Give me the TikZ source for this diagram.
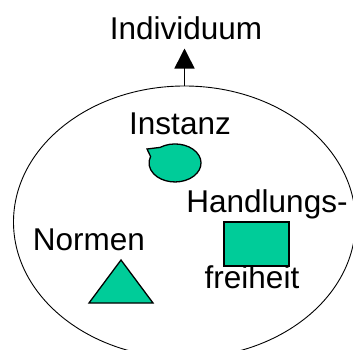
\documentclass[tikz,border=0pt]{standalone}
\usepackage{fontspec}
\setmainfont{Liberation Sans}
\usetikzlibrary{arrows.meta,shapes.geometric}
\definecolor{teal1}{RGB}{0,204,153}
\tikzset{
  lbl/.style={inner sep=0pt, anchor=base, font=\fontsize{31.5}{36}\selectfont},
  shp/.style={draw=black, fill=teal1, line width=1.3pt},
}
\begin{document}
\begin{tikzpicture}[x=1pt,y=-1pt]
\useasboundingbox (0,0) rectangle (353,350);
\node[draw, line width=0.9pt, ellipse, minimum width=342pt, minimum height=272pt, inner sep=0pt] (body) at (184.5,222) {};
\node[lbl] (ind) at (186,40) {Individuum};
\draw[line width=1.6pt, -{Triangle[width=20pt,length=20pt]}, shorten >=8pt] (body.north) -- (body.north |- ind.south);
\node[lbl] (inst) at (180,135) {Instanz};
\draw[shp] (147,149) -- (160.1,147.4) arc[start angle=235, end angle=560, x radius=26, y radius=19] -- cycle;
\node[lbl] (hand) at (267,212) {Handlungs-};
\node[shp, minimum width=65pt, minimum height=44pt, inner sep=0pt] (rect) at (256.5,244) {};
\node[lbl] (frei) at (252,288) {freiheit};
\node[lbl] (norm) at (89,250) {Normen};
\draw[shp] (121,260) -- (153,303) -- (89,303) -- cycle;
\end{tikzpicture}
\end{document}
